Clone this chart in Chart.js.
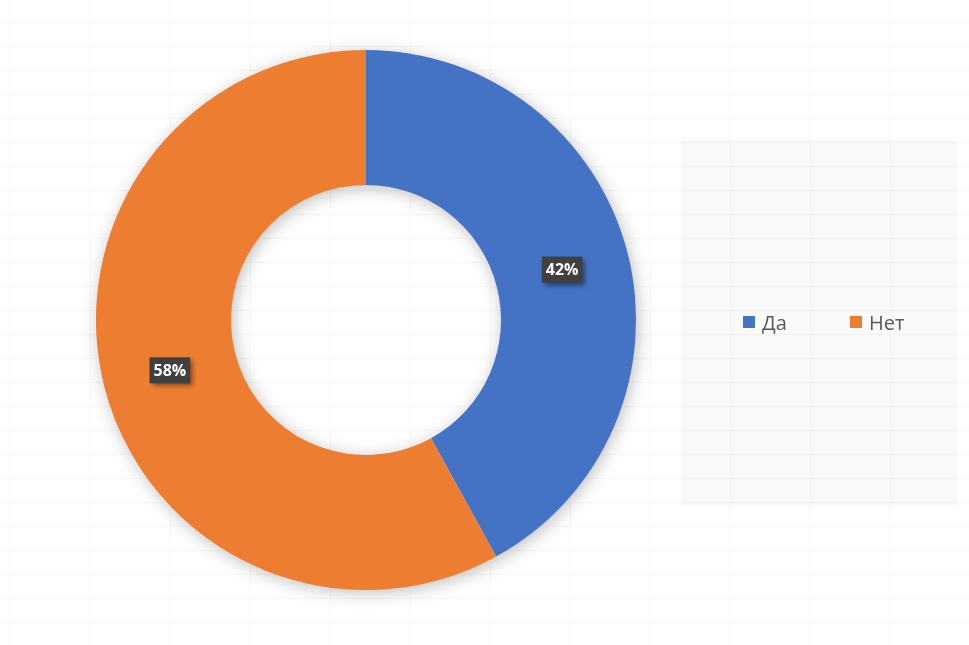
<!DOCTYPE html>
<html>
<head>
<meta charset="utf-8">
<script src="https://cdn.jsdelivr.net/npm/chart.js@4/dist/chart.umd.min.js"></script>
<style>
  html, body { margin: 0; padding: 0; }
  body {
    width: 969px; height: 645px; position: relative; overflow: hidden;
    background-color: #ffffff;
    background-image:
      linear-gradient(to right, #f7f7f7 1px, transparent 1px),
      linear-gradient(to bottom, #f7f7f7 1px, transparent 1px);
    background-size: 80px 24px;
    background-position: 10px 22px;
  }
  #wrap { position: absolute; left: 0; top: 0; width: 969px; height: 645px; }
  #legend {
    position: absolute; left: 681px; top: 140px; width: 276px; height: 365px;
    background: rgba(0,0,0,0.022);
    font-family: "Open Sans", "Noto Sans", sans-serif; font-size: 20px; color: #595959;
  }
  .item { position: absolute; top: 170px; display: flex; align-items: center; height: 24px; }
  .sw { width: 12px; height: 12px; margin-right: 7px; }
</style>
</head>
<body>
<div id="wrap"><canvas id="c" width="969" height="645"></canvas></div>
<div id="legend"></div>
<script>
const categories = ['Да', 'Нет'];
const values = [42, 58];
const colors = ['#4472c4', '#ed7d31'];

const ringShadow = {
  id: 'ringShadow',
  beforeDatasetsDraw(chart) {
    const arc = chart.getDatasetMeta(0).data[0];
    if (!arc) return;
    const ctx = chart.ctx;
    const { x, y, outerRadius, innerRadius } = arc.getProps(['x','y','outerRadius','innerRadius'], true);
    ctx.save();
    ctx.shadowColor = 'rgba(0,0,0,0.28)';
    ctx.shadowBlur = 18;
    ctx.shadowOffsetX = 2;
    ctx.shadowOffsetY = 3;
    ctx.beginPath();
    ctx.arc(x, y, outerRadius - 1, 0, Math.PI * 2);
    ctx.arc(x, y, innerRadius + 1, Math.PI * 2, 0, true);
    ctx.closePath();
    ctx.fillStyle = '#ffffff';
    ctx.fill();
    ctx.restore();
  }
};

const boxLabels = {
  id: 'boxLabels',
  afterDatasetsDraw(chart) {
    const ctx = chart.ctx;
    const data = chart.data.datasets[0].data;
    const total = data.reduce((a, b) => a + b, 0);
    const font = 'bold 16px "Open Sans", "Liberation Sans", Arial, sans-serif';
    chart.getDatasetMeta(0).data.forEach((arc, i) => {
      const p = arc.tooltipPosition();
      const txt = Math.round(data[i] / total * 100) + '%';
      ctx.save();
      ctx.font = font;
      const w = ctx.measureText(txt).width + 8;
      const h = 26;
      ctx.shadowColor = 'rgba(0,0,0,0.45)';
      ctx.shadowBlur = 5;
      ctx.shadowOffsetX = 3;
      ctx.shadowOffsetY = 3;
      ctx.fillStyle = '#404040';
      ctx.fillRect(p.x - w / 2, p.y - h / 2, w, h);
      ctx.restore();
      ctx.save();
      ctx.font = font;
      ctx.fillStyle = '#ffffff';
      ctx.textAlign = 'center';
      ctx.textBaseline = 'middle';
      ctx.fillText(txt, p.x, p.y + 1);
      ctx.restore();
    });
  }
};

const chart = new Chart(document.getElementById('c'), {
  type: 'doughnut',
  data: {
    labels: categories,
    datasets: [{ data: values, backgroundColor: colors, borderWidth: 0 }]
  },
  options: {
    responsive: false,
    animation: false,
    cutout: '50%',
    layout: { padding: { left: 96, top: 50, right: 333, bottom: 55 } },
    plugins: { legend: { display: false }, tooltip: { enabled: false } }
  },
  plugins: [ringShadow, boxLabels]
});

const legend = document.getElementById('legend');
const lefts = [62, 169];
categories.forEach((c, i) => {
  const it = document.createElement('div');
  it.className = 'item';
  it.style.left = lefts[i] + 'px';
  const sw = document.createElement('span');
  sw.className = 'sw';
  sw.style.background = colors[i];
  const t = document.createElement('span');
  t.textContent = c;
  it.appendChild(sw); it.appendChild(t);
  legend.appendChild(it);
});
</script>
</body>
</html>
